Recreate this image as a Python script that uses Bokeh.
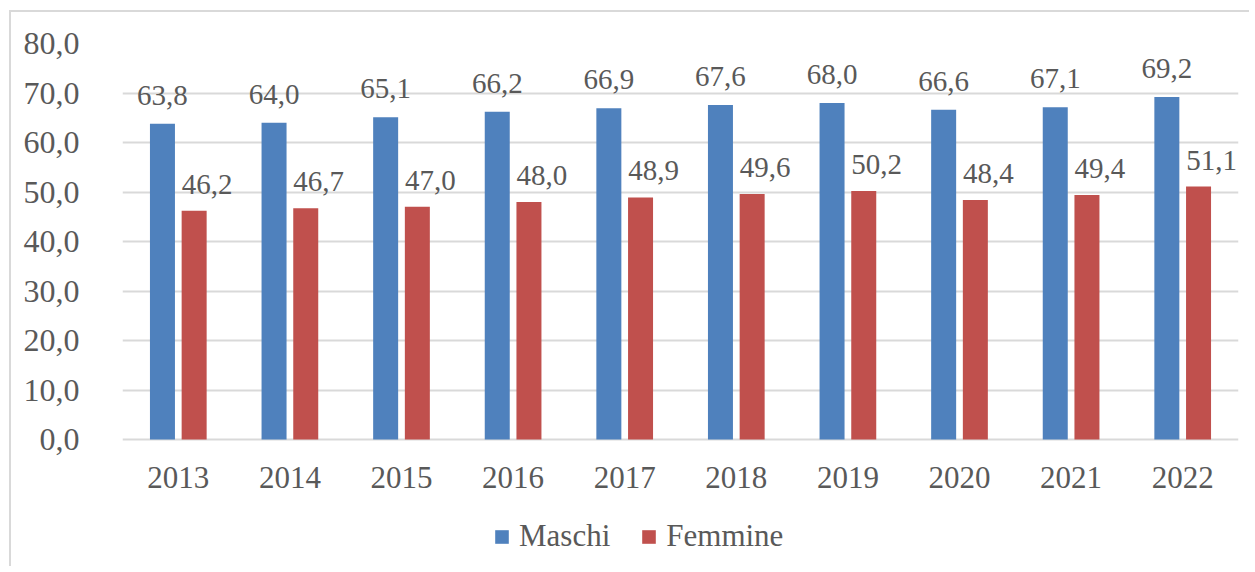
from bokeh.plotting import figure
from bokeh.models import ColumnDataSource, FactorRange, Range1d, LabelSet, Legend, LegendItem, CustomJSTickFormatter, FixedTicker
from bokeh.transform import dodge
from bokeh.embed import file_html
from bokeh.resources import INLINE

years = ["2013", "2014", "2015", "2016", "2017", "2018", "2019", "2020", "2021", "2022"]
maschi = [63.8, 64.0, 65.1, 66.2, 66.9, 67.6, 68.0, 66.6, 67.1, 69.2]
femmine = [46.2, 46.7, 47.0, 48.0, 48.9, 49.6, 50.2, 48.4, 49.4, 51.1]
y_ticks = [0, 10, 20, 30, 40, 50, 60, 70, 80]
series_names = ["Maschi", "Femmine"]

BLUE = "#4F81BD"
RED = "#C0504D"
TEXT = "#595959"
GRID = "#D9D9D9"
FONT = "Liberation Serif"

src = ColumnDataSource(dict(
    years=years,
    zero=[0] * len(years),
    maschi=maschi,
    femmine=femmine,
    m_lab=[f"{v:.1f}".replace(".", ",") for v in maschi],
    f_lab=[f"{v:.1f}".replace(".", ",") for v in femmine],
))

p = figure(
    x_range=FactorRange(factors=years, range_padding=0),
    y_range=Range1d(-26.06, 80),
    width=1240, height=556,
    output_backend="svg", toolbar_location=None,
    min_border_left=111, min_border_right=13, min_border_top=31, min_border_bottom=0,
    background_fill_color="white", border_fill_color="white",
)
p.styles = {"margin-left": "9px", "margin-top": "10px",
            "border-left": "2px solid #D9D9D9", "border-top": "2px solid #D9D9D9"}
p.outline_line_color = None

r_m = p.vbar(x=dodge("years", -0.142, range=p.x_range), top="maschi", width=0.224, source=src,
             fill_color=BLUE, line_color=None)
r_f = p.vbar(x=dodge("years", 0.142, range=p.x_range), top="femmine", width=0.224, source=src,
             fill_color=RED, line_color=None)

lm = LabelSet(x=dodge("years", -0.142, range=p.x_range), y="maschi", text="m_lab", source=src,
              text_align="center", text_baseline="alphabetic", y_offset=19,
              text_font=FONT, text_font_size="29px", text_color=TEXT)
lf = LabelSet(x=dodge("years", 0.142, range=p.x_range), y="femmine", text="f_lab", source=src,
              text_align="center", text_baseline="alphabetic", y_offset=17, x_offset=13,
              text_font=FONT, text_font_size="29px", text_color=TEXT)
cat = LabelSet(x="years", y="zero", text="years", source=src,
               text_align="center", text_baseline="alphabetic", y_offset=-48,
               text_font=FONT, text_font_size="31px", text_color=TEXT)
p.add_layout(lm)
p.add_layout(lf)
p.add_layout(cat)

# axes
p.yaxis.ticker = FixedTicker(ticks=y_ticks)
p.yaxis.formatter = CustomJSTickFormatter(code="return tick.toFixed(1).replace('.', ',');")
p.yaxis.axis_line_color = None
p.yaxis.major_tick_line_color = None
p.yaxis.minor_tick_line_color = None
p.yaxis.major_label_standoff = 37
p.yaxis.major_label_text_font = FONT
p.yaxis.major_label_text_font_size = "32px"
p.yaxis.major_label_text_color = TEXT
p.xaxis.visible = False

p.xgrid.grid_line_color = None
p.ygrid.ticker = FixedTicker(ticks=y_ticks)
p.ygrid.grid_line_color = GRID
p.ygrid.grid_line_width = 2

legend = Legend(
    items=[LegendItem(label=series_names[0], renderers=[r_m]),
           LegendItem(label=series_names[1], renderers=[r_f])],
    orientation="horizontal", location=(371, 14),
    glyph_width=17, glyph_height=17, label_standoff=9, spacing=30,
    padding=0, margin=0, border_line_color=None, background_fill_alpha=0,
    label_text_font=FONT, label_text_font_size="31px", label_text_color=TEXT,
)
p.add_layout(legend, "center")

open("out.html", "w").write(file_html(p, INLINE))
